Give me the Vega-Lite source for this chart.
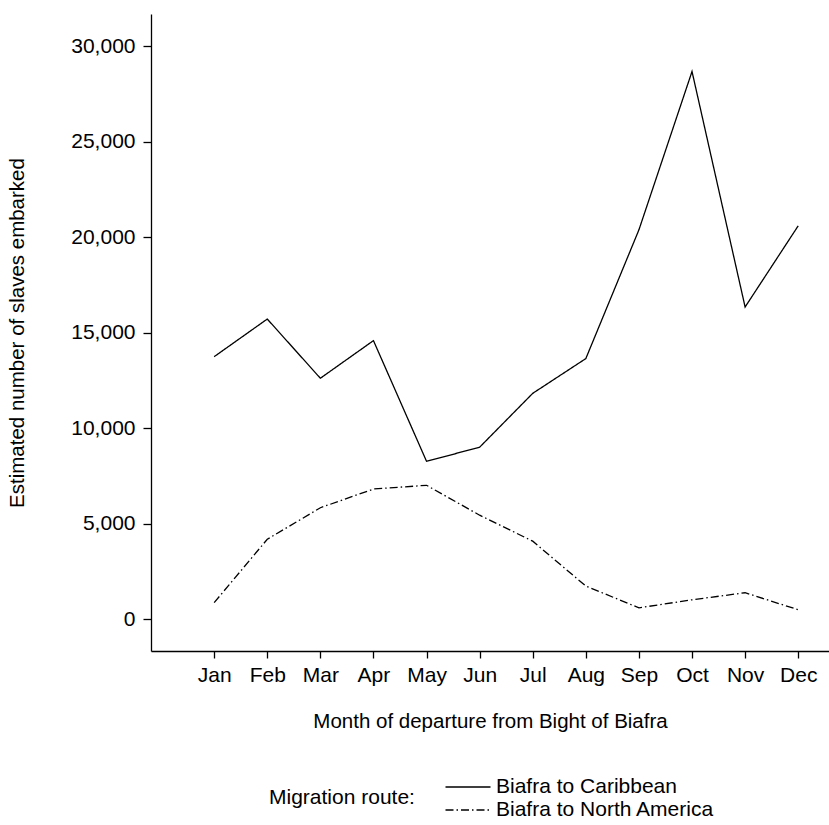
{
  "$schema": "https://vega.github.io/schema/vega-lite/v6.json",
  "autosize": "none",
  "width": 678,
  "height": 637,
  "padding": {"left": 151, "top": 14, "right": 0, "bottom": 174},
  "background": "white",
  "config": {
    "font": "Liberation Sans",
    "view": {"stroke": null},
    "axis": {
      "domainColor": "black",
      "domainWidth": 1.3,
      "tickColor": "black",
      "tickWidth": 1.3,
      "tickSize": 7,
      "grid": false,
      "labelColor": "black",
      "titleColor": "black",
      "labelFont": "Liberation Sans",
      "titleFont": "Liberation Sans",
      "labelFontSize": 21,
      "titleFontSize": 20.5,
      "titleFontWeight": "normal"
    },
    "legend": {
      "labelFont": "Liberation Sans",
      "titleFont": "Liberation Sans"
    }
  },
  "data": {
    "values": [
      {"month": 1, "route": "Biafra to Caribbean", "slaves": 13750},
      {"month": 2, "route": "Biafra to Caribbean", "slaves": 15720},
      {"month": 3, "route": "Biafra to Caribbean", "slaves": 12620},
      {"month": 4, "route": "Biafra to Caribbean", "slaves": 14590},
      {"month": 5, "route": "Biafra to Caribbean", "slaves": 8270},
      {"month": 6, "route": "Biafra to Caribbean", "slaves": 9010},
      {"month": 7, "route": "Biafra to Caribbean", "slaves": 11830},
      {"month": 8, "route": "Biafra to Caribbean", "slaves": 13650},
      {"month": 9, "route": "Biafra to Caribbean", "slaves": 20390},
      {"month": 10, "route": "Biafra to Caribbean", "slaves": 28680},
      {"month": 11, "route": "Biafra to Caribbean", "slaves": 16350},
      {"month": 12, "route": "Biafra to Caribbean", "slaves": 20600},
      {"month": 1, "route": "Biafra to North America", "slaves": 870},
      {"month": 2, "route": "Biafra to North America", "slaves": 4190},
      {"month": 3, "route": "Biafra to North America", "slaves": 5840},
      {"month": 4, "route": "Biafra to North America", "slaves": 6820},
      {"month": 5, "route": "Biafra to North America", "slaves": 7015},
      {"month": 6, "route": "Biafra to North America", "slaves": 5450},
      {"month": 7, "route": "Biafra to North America", "slaves": 4090},
      {"month": 8, "route": "Biafra to North America", "slaves": 1740},
      {"month": 9, "route": "Biafra to North America", "slaves": 600},
      {"month": 10, "route": "Biafra to North America", "slaves": 1020},
      {"month": 11, "route": "Biafra to North America", "slaves": 1390},
      {"month": 12, "route": "Biafra to North America", "slaves": 500}
    ]
  },
  "mark": {"type": "line", "color": "black", "strokeWidth": 1.3, "clip": false},
  "encoding": {
    "x": {
      "field": "month",
      "type": "quantitative",
      "scale": {"domain": [-0.19, 12.58], "nice": false, "zero": false},
      "axis": {
        "title": "Month of departure from Bight of Biafra",
        "values": [1, 2, 3, 4, 5, 6, 7, 8, 9, 10, 11, 12],
        "labelExpr": "['', 'Jan', 'Feb', 'Mar', 'Apr', 'May', 'Jun', 'Jul', 'Aug', 'Sep', 'Oct', 'Nov', 'Dec'][datum.value]",
        "labelPadding": 6,
        "titlePadding": 26,
        "labelFlush": false,
        "labelOverlap": false
      }
    },
    "y": {
      "field": "slaves",
      "type": "quantitative",
      "scale": {"domain": [-1660, 31690], "nice": false, "zero": false},
      "axis": {
        "title": "Estimated number of slaves embarked",
        "values": [0, 5000, 10000, 15000, 20000, 25000, 30000],
        "format": ",d",
        "tickSize": 8,
        "labelPadding": 8,
        "titlePadding": 43,
        "labelFlush": false,
        "labelOverlap": false
      }
    },
    "strokeDash": {
      "field": "route",
      "type": "nominal",
      "scale": {
        "domain": ["Biafra to Caribbean", "Biafra to North America"],
        "range": [[1, 0], [8, 3, 1.5, 3]]
      },
      "legend": {
        "title": "Migration route:",
        "orient": "none",
        "legendX": 118,
        "legendY": 762,
        "direction": "vertical",
        "titleOrient": "left",
        "titleAnchor": "middle",
        "titleBaseline": "middle",
        "titleFontSize": 21,
        "titleFontWeight": "normal",
        "titleColor": "black",
        "titlePadding": 42,
        "titleLimit": 0,
        "labelFontSize": 21,
        "labelColor": "black",
        "labelLimit": 0,
        "labelOffset": 17,
        "rowPadding": 2,
        "symbolType": "M-2.25,0H2.25",
        "symbolSize": 400,
        "symbolFillColor": "transparent",
        "symbolStrokeColor": "black",
        "symbolStrokeWidth": 1.3
      }
    }
  }
}
